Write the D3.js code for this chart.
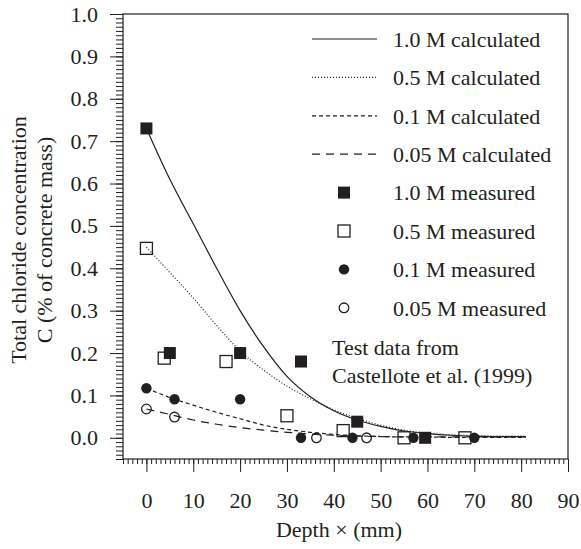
<!DOCTYPE html>
<html>
<head>
<meta charset="utf-8">
<script src="https://cdn.jsdelivr.net/npm/d3@7"></script>
<style>
  body { margin: 0; background: #fff; }
</style>
</head>
<body>
<div id="chart"></div>
<script>
var svgWidth = 581;
var svgHeight = 549;

// calculated profiles, depth in mm
var calcDepth = [0, 5, 10, 15, 20, 25, 30, 35, 40, 45, 50, 55, 60, 65, 70, 75, 81];
var calc10 = [0.73, 0.61, 0.505, 0.40, 0.30, 0.215, 0.145, 0.097, 0.064, 0.042, 0.027, 0.016, 0.010, 0.006, 0.004, 0.003, 0.003];
var calc05 = [0.45, 0.39, 0.33, 0.265, 0.205, 0.16, 0.122, 0.092, 0.066, 0.046, 0.030, 0.018, 0.011, 0.007, 0.005, 0.004, 0.004];
var calc01 = [0.117, 0.095, 0.077, 0.060, 0.045, 0.030, 0.020, 0.013, 0.008, 0.005, 0.003, 0.002, 0.002, 0.001, 0.001, 0.001, 0.001];
var calc005 = [0.068, 0.055, 0.042, 0.032, 0.024, 0.018, 0.013, 0.009, 0.006, 0.004, 0.003, 0.002, 0.002, 0.002, 0.002, 0.002, 0.002];

// measured points
var meas10X = [0, 5, 20, 33, 45, 59.5];
var meas10Y = [0.73, 0.20, 0.20, 0.18, 0.038, 0.0];
var meas05X = [0, 3.8, 17, 30, 42, 55, 68];
var meas05Y = [0.447, 0.188, 0.18, 0.052, 0.017, 0.0, 0.0];
var meas01X = [0, 6, 20, 33, 44, 57, 70];
var meas01Y = [0.117, 0.091, 0.091, 0.0, 0.0, 0.0, 0.0];
var meas005X = [0, 6, 36.3, 47];
var meas005Y = [0.068, 0.049, 0.0, 0.0];

var xTicks = [0, 10, 20, 30, 40, 50, 60, 70, 80, 90];
var yTicks = [0, 0.1, 0.2, 0.3, 0.4, 0.5, 0.6, 0.7, 0.8, 0.9, 1.0];

var legendLabels = ["1.0 M calculated", "0.5 M calculated", "0.1 M calculated", "0.05 M calculated",
  "1.0 M measured", "0.5 M measured", "0.1 M measured", "0.05 M measured"];
var noteLines = ["Test data from", "Castellote et al. (1999)"];

var ink = "#231f20";
var serif = "Liberation Serif";
var fontSize = 22;

var svg = d3.select("#chart")
  .append("svg")
  .attr("width", svgWidth)
  .attr("height", svgHeight)
  .attr("font-family", serif);

var xScale = d3.scaleLinear().domain([-5, 90]).range([123, 568]);
var yScale = d3.scaleLinear().domain([-0.05, 1.0]).range([459, 14]);

// minor ticks
svg.append("g")
  .attr("transform", `translate(${xScale(-5)},0)`)
  .call(d3.axisLeft(yScale).tickValues(d3.range(-5, 101).map(d => d / 100)).tickSize(7).tickFormat(""))
  .call(g => g.select(".domain").remove());

svg.append("g")
  .attr("transform", `translate(0,${yScale(-0.05)})`)
  .call(d3.axisBottom(xScale).tickValues(d3.range(-5, 91)).tickSize(5).tickFormat(""))
  .call(g => g.select(".domain").remove());

// major ticks
var leftAxis = svg.append("g")
  .attr("transform", `translate(${xScale(-5)},0)`)
  .call(d3.axisLeft(yScale).tickValues(yTicks).tickSize(13).tickPadding(12).tickFormat(d3.format(".1f")));
leftAxis.select(".domain").remove();

var bottomAxis = svg.append("g")
  .attr("transform", `translate(0,${yScale(-0.05)})`)
  .call(d3.axisBottom(xScale).tickValues(xTicks).tickSize(13).tickPadding(20));
bottomAxis.select(".domain").remove();

svg.selectAll("g").attr("font-family", serif);
svg.selectAll(".tick line").attr("stroke", ink).attr("stroke-width", 1);
svg.selectAll(".tick text")
  .attr("font-family", serif)
  .attr("font-size", fontSize)
  .attr("fill", ink);

// frame
svg.append("rect")
  .attr("x", xScale(-5))
  .attr("y", yScale(1.0))
  .attr("width", xScale(90) - xScale(-5))
  .attr("height", yScale(-0.05) - yScale(1.0))
  .attr("fill", "none")
  .attr("stroke", ink)
  .attr("stroke-width", 1.2);

// axis titles
svg.append("text")
  .attr("x", 339)
  .attr("y", 537)
  .attr("text-anchor", "middle")
  .attr("font-family", serif)
  .attr("font-size", fontSize)
  .attr("fill", ink)
  .text("Depth \u00d7 (mm)");

var yTitle = svg.append("text")
  .attr("transform", "translate(26,240) rotate(-90)")
  .attr("text-anchor", "middle")
  .attr("font-family", serif)
  .attr("font-size", fontSize)
  .attr("fill", ink);
yTitle.append("tspan").attr("x", 0).attr("y", 0).text("Total chloride concentration");
yTitle.append("tspan").attr("x", 0).attr("y", 26).text("C (% of concrete mass)");

// curves
var curveStyles = [
  {values: calc10, dash: null},
  {values: calc05, dash: "1,2"},
  {values: calc01, dash: "4,3"},
  {values: calc005, dash: "8,6"}
];

var line = d3.line()
  .x(d => xScale(d[0]))
  .y(d => yScale(d[1]))
  .curve(d3.curveMonotoneX);

curveStyles.forEach(function(c) {
  svg.append("path")
    .datum(calcDepth.map((d, i) => [d, c.values[i]]))
    .attr("d", line)
    .attr("fill", "none")
    .attr("stroke", ink)
    .attr("stroke-width", 1.2)
    .attr("stroke-dasharray", c.dash);
});

// markers
function drawSquares(xs, ys, filled) {
  svg.append("g").selectAll("rect")
    .data(xs.map((d, i) => [d, ys[i]]))
    .enter()
    .append("rect")
    .attr("x", d => xScale(d[0]) - 6)
    .attr("y", d => yScale(d[1]) - 6)
    .attr("width", 12)
    .attr("height", 12)
    .attr("fill", filled ? ink : "none")
    .attr("stroke", ink)
    .attr("stroke-width", filled ? 0 : 1.3);
}

function drawCircles(xs, ys, filled) {
  svg.append("g").selectAll("circle")
    .data(xs.map((d, i) => [d, ys[i]]))
    .enter()
    .append("circle")
    .attr("cx", d => xScale(d[0]))
    .attr("cy", d => yScale(d[1]))
    .attr("r", filled ? 5.2 : 4.8)
    .attr("fill", filled ? ink : "none")
    .attr("stroke", ink)
    .attr("stroke-width", filled ? 0 : 1.3);
}

drawSquares(meas05X, meas05Y, false);
drawCircles(meas005X, meas005Y, false);
drawCircles(meas01X, meas01Y, true);
drawSquares(meas10X, meas10Y, true);

// legend
var legend = svg.append("g");
var rowY = d => 39 + d * 38.4;

legendLabels.forEach(function(label, i) {
  legend.append("text")
    .attr("x", 393)
    .attr("y", rowY(i))
    .attr("dy", "0.35em")
    .attr("font-family", serif)
    .attr("font-size", fontSize)
    .attr("fill", ink)
    .text(label);
});

curveStyles.forEach(function(c, i) {
  legend.append("line")
    .attr("x1", 312).attr("x2", 377)
    .attr("y1", rowY(i)).attr("y2", rowY(i))
    .attr("stroke", ink)
    .attr("stroke-width", 1.2)
    .attr("stroke-dasharray", c.dash);
});

legend.append("rect").attr("x", 338).attr("y", rowY(4) - 6).attr("width", 12).attr("height", 12).attr("fill", ink);
legend.append("rect").attr("x", 338).attr("y", rowY(5) - 6).attr("width", 12).attr("height", 12)
  .attr("fill", "none").attr("stroke", ink).attr("stroke-width", 1.3);
legend.append("circle").attr("cx", 344).attr("cy", rowY(6)).attr("r", 5.2).attr("fill", ink);
legend.append("circle").attr("cx", 344).attr("cy", rowY(7)).attr("r", 4.8)
  .attr("fill", "none").attr("stroke", ink).attr("stroke-width", 1.3);

noteLines.forEach(function(t, i) {
  svg.append("text")
    .attr("x", 332)
    .attr("y", 347 + i * 28)
    .attr("dy", "0.35em")
    .attr("font-family", serif)
    .attr("font-size", fontSize)
    .attr("fill", ink)
    .text(t);
});
</script>
</body>
</html>
